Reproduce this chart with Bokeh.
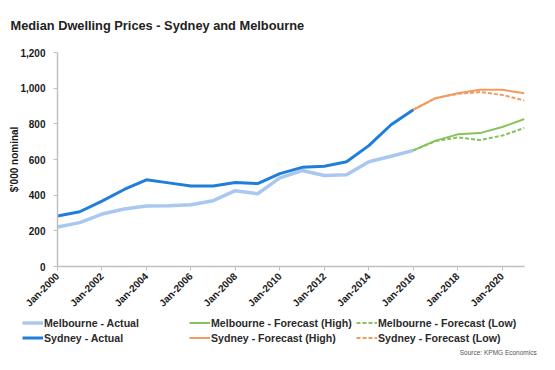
from bokeh.plotting import figure
from bokeh.layouts import column
from bokeh.models import Legend, LegendItem, Label, NumeralTickFormatter, FixedTicker, Range1d
from bokeh.embed import file_html
from bokeh.resources import INLINE
import math

# ---- data ----
years_actual = list(range(2000, 2017))
sydney_actual = [283, 307, 367, 432, 486, 469, 452, 452, 471, 465, 521, 556, 562, 587, 678, 795, 879]
melbourne_actual = [221, 246, 294, 322, 339, 340, 346, 369, 425, 408, 497, 538, 510, 514, 587, 618, 651]
years_forecast = list(range(2016, 2022))
sydney_high = [879, 944, 972, 991, 991, 972]
sydney_low = [879, 944, 968, 978, 962, 931]
melbourne_high = [651, 706, 741, 748, 782, 827]
melbourne_low = [651, 703, 724, 709, 734, 777]
x_ticks = list(range(2000, 2021, 2))
x_tick_labels = ["Jan-%d" % y for y in x_ticks]
y_ticks = [0, 200, 400, 600, 800, 1000, 1200]
title_text = "Median Dwelling Prices - Sydney and Melbourne"
source_text = "Source:  KPMG Economics"

FONT = "Liberation Sans"
C_SYD = "#1f7fd8"
C_MEL = "#a9c8ef"
C_GREEN = "#86c35e"
C_ORANGE = "#f39a5e"
W = 555

series = {
    "mel": (years_actual, melbourne_actual, dict(line_color=C_MEL, line_width=3.5)),
    "syd": (years_actual, sydney_actual, dict(line_color=C_SYD, line_width=3)),
    "mh": (years_forecast, melbourne_high, dict(line_color=C_GREEN, line_width=2)),
    "ml": (years_forecast, melbourne_low, dict(line_color=C_GREEN, line_width=2, line_dash="4 2")),
    "sh": (years_forecast, sydney_high, dict(line_color=C_ORANGE, line_width=2)),
    "sl": (years_forecast, sydney_low, dict(line_color=C_ORANGE, line_width=2, line_dash="4 2")),
}

def blank(height):
    f = figure(width=W, height=height, output_backend="svg", toolbar_location=None,
               x_range=Range1d(0, W), y_range=Range1d(0, height),
               min_border_left=0, min_border_right=0, min_border_top=0, min_border_bottom=0,
               x_axis_location=None, y_axis_location=None)
    f.frame_align = False
    f.outline_line_color = None
    f.xgrid.visible = False
    f.ygrid.visible = False
    return f

# ---- title strip ----
t = blank(40)
t.add_layout(Label(x=10, y=15, text=title_text, text_font=FONT, text_font_style="bold",
                   text_font_size="12.8px", text_color="#222222",
                   text_baseline="middle", text_align="left"))

# ---- main chart ----
p = figure(width=W, height=275, output_backend="svg", toolbar_location=None,
           x_range=Range1d(2000, 2021), y_range=Range1d(0, 1200),
           min_border_left=57, min_border_right=31, min_border_top=12, min_border_bottom=48)
p.frame_align = False
p.outline_line_color = None
p.xgrid.visible = False
p.ygrid.visible = False

for xs, ys, st in series.values():
    p.line(xs, ys, **st)

for ax in (p.xaxis[0], p.yaxis[0]):
    ax.axis_line_color = "#c0c0c0"
    ax.axis_line_width = 1.5
    ax.major_tick_line_color = "#c0c0c0"
    ax.major_tick_in = 0
    ax.major_tick_out = 4
    ax.minor_tick_line_color = None
    ax.major_label_text_font = FONT
    ax.major_label_text_font_style = "bold"
    ax.major_label_text_font_size = "10px"
    ax.major_label_text_color = "#1a1a1a"

p.xaxis.ticker = FixedTicker(ticks=x_ticks)
p.xaxis.major_label_overrides = {t_: l for t_, l in zip(x_ticks, x_tick_labels)}
p.xaxis.major_label_orientation = math.pi / 4
p.xaxis.major_label_standoff = 4

p.yaxis.ticker = FixedTicker(ticks=y_ticks)
p.yaxis.formatter = NumeralTickFormatter(format="0,0")
p.yaxis.major_label_standoff = 8
p.yaxis.axis_label = "$'000 nominal"
p.yaxis.axis_label_text_font = FONT
p.yaxis.axis_label_text_font_style = "bold"
p.yaxis.axis_label_text_font_size = "10px"
p.yaxis.axis_label_text_color = "#1a1a1a"
p.yaxis.axis_label_standoff = -3

# ---- legend strip (renderers lie outside its visible range; only legend glyphs show) ----
lg_fig = blank(55)
rs = {k: lg_fig.line(xs, ys, **st) for k, (xs, ys, st) in series.items()}

def make_legend(items, vx):
    lg = Legend(items=items, location=(vx, 25), orientation="vertical",
                glyph_width=21, glyph_height=15, label_height=15, label_standoff=1,
                spacing=0, padding=0, margin=0,
                label_text_font=FONT, label_text_font_style="bold", label_text_font_size="10.6px",
                label_text_color="#2a2a2a", border_line_alpha=0, background_fill_alpha=0)
    lg_fig.add_layout(lg)

make_legend([LegendItem(label="Melbourne - Actual", renderers=[rs["mel"]]),
             LegendItem(label="Sydney - Actual", renderers=[rs["syd"]])], 22)
make_legend([LegendItem(label="Melbourne - Forecast (High)", renderers=[rs["mh"]]),
             LegendItem(label="Sydney - Forecast (High)", renderers=[rs["sh"]])], 189)
make_legend([LegendItem(label="Melbourne - Forecast (Low)", renderers=[rs["ml"]]),
             LegendItem(label="Sydney - Forecast (Low)", renderers=[rs["sl"]])], 356)

lg_fig.add_layout(Label(x=538, y=18, text=source_text, text_font=FONT, text_font_size="6.5px",
                        text_color="#555555", text_baseline="middle", text_align="right"))

layout = column(t, p, lg_fig, spacing=0)
open("out.html", "w").write(file_html(layout, INLINE))
